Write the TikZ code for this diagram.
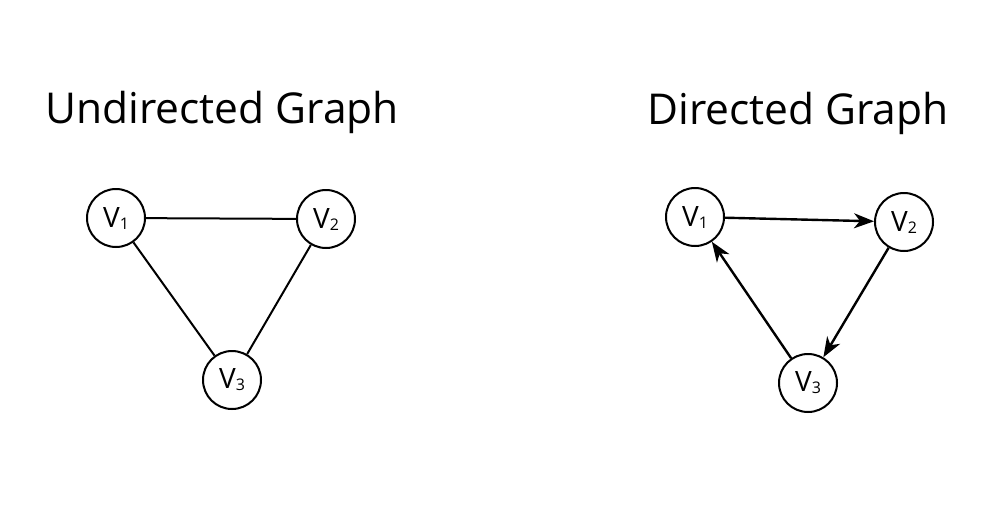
\documentclass[tikz,border=0pt]{standalone}
\usepackage{fontspec}
\setmainfont{Open Sans}
\usetikzlibrary{arrows.meta}
\begin{document}
\begin{tikzpicture}[x=1pt,y=-1pt,
  vert/.style={circle,draw,line width=2pt,minimum size=58pt,inner sep=0pt,font=\fontsize{28}{30}\selectfont},
  edge/.style={line width=2pt},
  arr/.style={line width=2.4pt,-{Stealth[length=20pt,width=15pt,inset=6pt]}}]
\useasboundingbox (0,0) rectangle (1000,504);
\node (t1) at (222,112) {\fontsize{42.5}{50}\selectfont Undirected Graph};
\node (t2) at (798,113) {\fontsize{42.5}{50}\selectfont Directed Graph};
\newcommand{\vlab}[1]{V\raisebox{-2pt}{\fontsize{16}{18}\selectfont #1}}
\node[vert] (a1) at (116,218) {\vlab{1}};
\node[vert] (a2) at (326,219) {\vlab{2}};
\node[vert] (a3) at (232,380) {\vlab{3}};
\draw[edge] (a1) -- (a2);
\draw[edge] (a2) -- (a3);
\draw[edge] (a3) -- (a1);
\node[vert] (b1) at (695,217) {\vlab{1}};
\node[vert] (b2) at (904,222) {\vlab{2}};
\node[vert] (b3) at (808,383) {\vlab{3}};
\draw[arr] (b1) -- (b2);
\draw[arr] (b2) -- (b3);
\draw[arr] (b3) -- (b1);
\end{tikzpicture}
\end{document}
